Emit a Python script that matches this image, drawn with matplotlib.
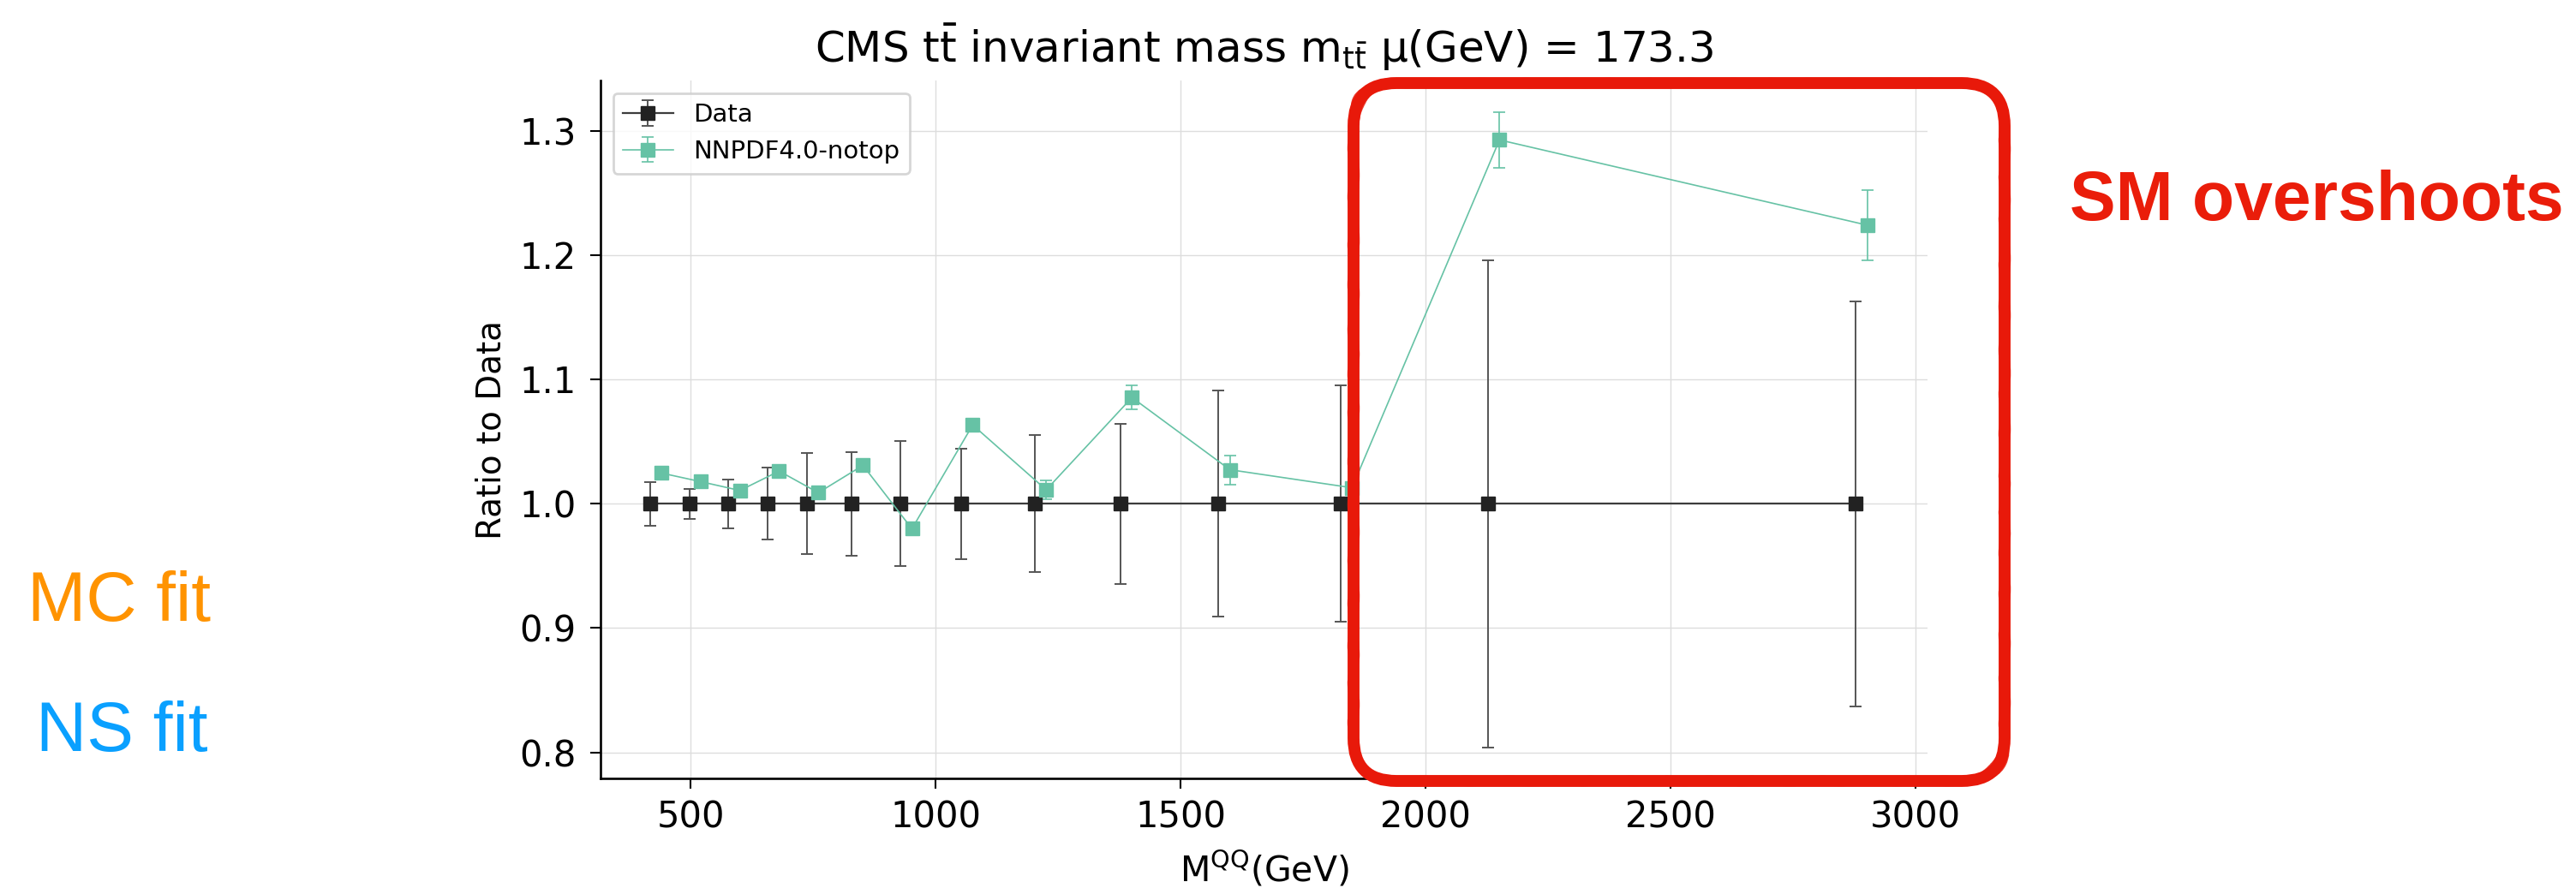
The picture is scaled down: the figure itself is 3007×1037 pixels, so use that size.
import matplotlib
matplotlib.use('Agg')
import matplotlib.pyplot as plt
from matplotlib.patches import FancyBboxPatch
from matplotlib.transforms import IdentityTransform
import numpy as np

plt.rcParams['font.family'] = ['DejaVu Sans']
plt.rcParams['mathtext.default'] = 'regular'

# ---- data ----
mass = [417, 497, 577, 657, 737, 828, 928, 1052, 1202, 1377, 1577, 1826, 2127, 2878]
data_ratio = [1.0, 1.0, 1.0, 1.0, 1.0, 1.0, 1.0, 1.0, 1.0, 1.0, 1.0, 1.0, 1.0, 1.0]
data_err = [0.0175, 0.012, 0.0197, 0.0288, 0.0407, 0.0417, 0.0501,
            0.0445, 0.055, 0.0643, 0.091, 0.095, 0.196, 0.163]
nnpdf_ratio = [1.0246, 1.0177, 1.0106, 1.0262, 1.0088, 1.0308, 0.9798,
               1.0633, 1.0111, 1.0854, 1.0273, 1.0128, 1.2926, 1.224]
nnpdf_err = [0.003, 0.003, 0.003, 0.003, 0.003, 0.003, 0.003,
             0.004, 0.0078, 0.0098, 0.0117, 0.004, 0.0225, 0.0284]
xticks = [500, 1000, 1500, 2000, 2500, 3000]
yticks = [0.8, 0.9, 1.0, 1.1, 1.2, 1.3]
series_labels = ['Data', 'NNPDF4.0-notop']
title = r'CMS $t\bar{t}$ invariant mass $m_{t\bar{t}}$ μ(GeV) = 173.3'
shift = 23.5  # horizontal offset of the theory series for visibility

W, H = 3007, 1037
fig = plt.figure(figsize=(W / 100, H / 100), dpi=100)
ax_l, ax_r, ax_t, ax_b = 701, 2250, 94, 909
ax = fig.add_axes([ax_l / W, 1 - ax_b / H, (ax_r - ax_l) / W, (ax_b - ax_t) / H])

ax.errorbar(mass, data_ratio, yerr=data_err, fmt='s-', color='#3c3c3c',
            mfc='#222222', mec='#222222', ms=11, lw=1.6, ecolor='#555555',
            elinewidth=1.4, capsize=5, capthick=1.4, label=series_labels[0])
ax.errorbar(np.array(mass) + shift, nnpdf_ratio, yerr=nnpdf_err, fmt='s-',
            color='#66c2a5', ms=11, lw=1.2, elinewidth=1.2, capsize=5,
            capthick=1.2, label=series_labels[1])

ax.set_xlim(316, 3024)
ax.set_ylim(0.779, 1.3404)
ax.set_xticks(xticks)
ax.set_yticks(yticks)
ax.grid(True, color='#dddddd', lw=1.0)
ax.set_axisbelow(True)
for s in ['top', 'right']:
    ax.spines[s].set_visible(False)
for s in ['left', 'bottom']:
    ax.spines[s].set_linewidth(1.9)
ax.tick_params(length=8.5, width=1.5, labelsize=30)
ax.tick_params(axis='x', pad=9)
ax.tick_params(axis='y', pad=12)
ax.set_ylabel('Ratio to Data', fontsize=28, labelpad=10)
ax.set_xlabel('$M^{QQ}$(GeV)', fontsize=29.5, labelpad=12)
ax.set_title(title, fontsize=36, pad=15)

leg = ax.legend(loc='upper left', fontsize=21, frameon=True, fancybox=True,
                edgecolor='#cccccc', framealpha=0.8)
leg.get_frame().set_linewidth(2)

# ---- slide annotations ----
fig.text(32 / W, 1 - 725 / H, 'MC fit', fontsize=59, color='#FF9300',
         family='Liberation Sans', va='baseline', ha='left')
fig.text(42 / W, 1 - 877 / H, 'NS fit', fontsize=59, color='#0AA0FF',
         family='Liberation Sans', va='baseline', ha='left')
fig.text(2416 / W, 1 - 257 / H, 'SM overshoots', fontsize=58, weight='bold',
         color='#EA1D0A', family='Liberation Sans', va='baseline', ha='left')

red = '#E8190A'
bx0, bx1, by_top, by_bot = 1580, 2340, 97, 912
for dx, dy, lw, a, sk in [(0, 0, 10, 1.0, None), (-4, 3, 2.5, 0.85, (1.5, 60, 3)),
                          (4, -3, 2.5, 0.85, (1.5, 80, 3))]:
    p = FancyBboxPatch((bx0 + dx, H - by_bot + dy), bx1 - bx0, by_bot - by_top,
                       boxstyle='round,pad=0,rounding_size=50',
                       transform=IdentityTransform(), fill=False, ec=red,
                       lw=lw, alpha=a, zorder=20)
    if sk is not None:
        p.set_sketch_params(*sk)
    fig.add_artist(p)

fig.savefig('out.png', dpi=100)
